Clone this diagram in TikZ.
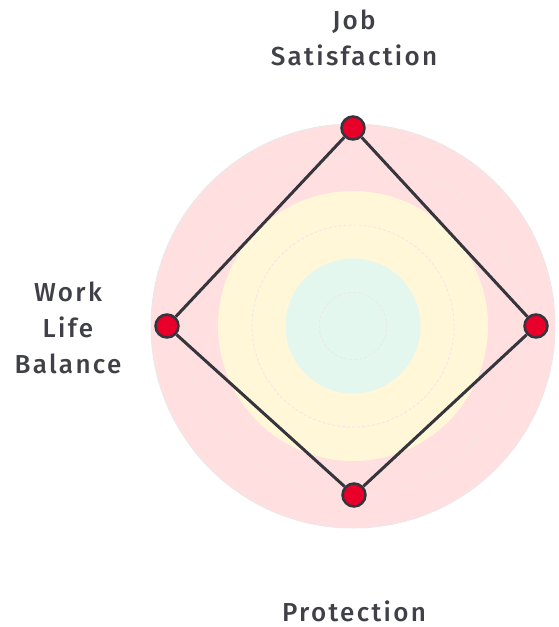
\documentclass[tikz,border=0pt]{standalone}
\usepackage{fontspec}
\newfontfamily\axisfont{Fira Sans Medium}[LetterSpace=9]
\definecolor{bandpink}{HTML}{FFDFE0}
\definecolor{bandyellow}{HTML}{FFF7D8}
\definecolor{bandteal}{HTML}{E3F7EF}
\definecolor{ringgray}{HTML}{EDE8E8}
\definecolor{linegray}{HTML}{35353D}
\definecolor{dotred}{HTML}{E8002B}
\definecolor{textgray}{HTML}{404048}
\tikzset{
  ring/.style={draw=ringgray, line width=0.8pt, dash pattern=on 3pt off 2pt},
  dot/.style={circle, fill=dotred, draw=linegray, line width=2.5pt, inner sep=0pt, minimum size=23pt},
  poly/.style={draw=linegray, line width=3pt},
  axislabel/.style={text=textgray, align=center, font=\axisfont\fontsize{26}{36}\selectfont}
}
\begin{document}
\begin{tikzpicture}[x=1pt,y=-1pt]
\useasboundingbox (0,0) rectangle (558,627);
% Centre of the chart
\coordinate (O) at (353,326);
% Coloured bands
\fill[bandpink] (O) circle (202pt);
\fill[bandyellow] (O) circle (135pt);
\fill[bandteal] (O) circle (67.5pt);
% Grid rings
\draw[ringgray, line width=1pt] (O) circle (202pt);
\draw[ring] (O) circle (33.7pt);
\draw[ring] (O) circle (101pt);
\draw[ring] (O) circle (168.5pt);
% Data points
\node[dot] (js) at (353,128) {};
\node[dot] (rt) at (536,326) {};
\node[dot] (pr) at (354,495) {};
\node[dot] (wl) at (167,326) {};
% Polygon
\draw[poly] (js) -- (rt) -- (pr) -- (wl) -- (js);
% Axis labels
\node[axislabel] (lbljs) at (354,38) {Job\\Satisfaction};
\node[axislabel] (lblwl) at (68,328) {Work\\Life\\Balance};
\node[axislabel] (lblpr) at (354,611) {Protection};
\end{tikzpicture}
\end{document}
